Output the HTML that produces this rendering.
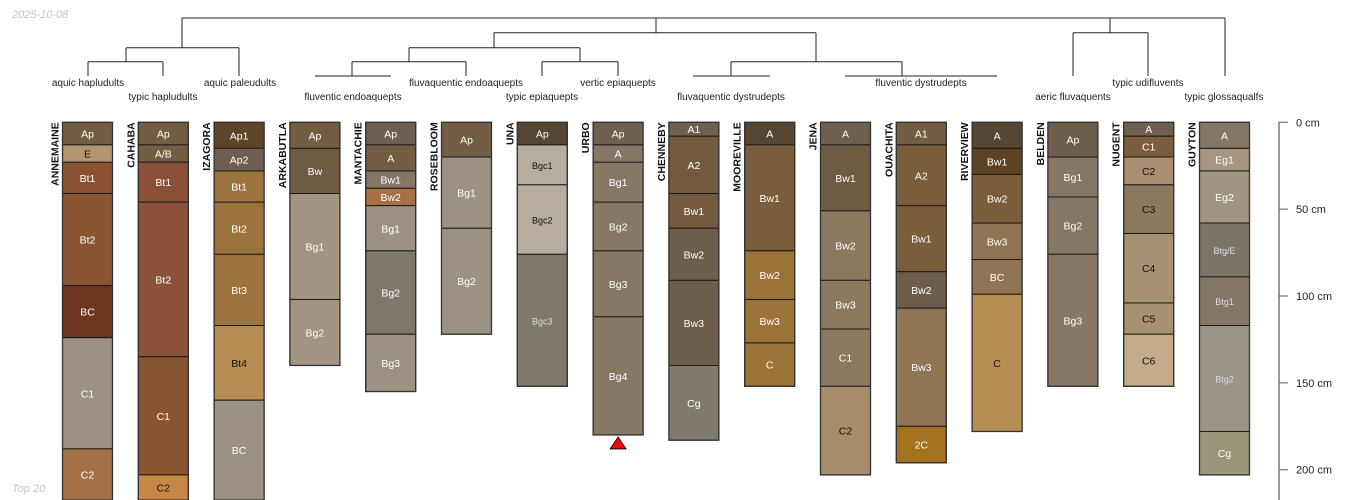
<!DOCTYPE html>
<html><head><meta charset="utf-8"><style>
html,body{margin:0;padding:0;background:#fff;width:1350px;height:500px;overflow:hidden;}
svg{display:block;font-family:"Liberation Sans",sans-serif;overflow:hidden;}
</style></head><body>
<svg id="chart" width="1350" height="500" viewBox="0 0 1350 500" xmlns="http://www.w3.org/2000/svg">
<text x="12" y="18" font-size="11" font-style="italic" fill="#c4c4c4">2025-10-08</text>
<g id="dendro" stroke="#222" stroke-width="1" fill="none"></g>
<g id="taxa" font-size="10" fill="#222" text-anchor="middle"></g>
<g id="profiles"></g>
<g id="axis"></g>
<text x="12" y="492" font-size="11" font-style="italic" fill="#c4c4c4">Top 20</text>
</svg>
<script>
const profileNames = ["ANNEMAINE","CAHABA","IZAGORA","ARKABUTLA","MANTACHIE","ROSEBLOOM","UNA","URBO","CHENNEBY","MOOREVILLE","JENA","OUACHITA","RIVERVIEW","BELDEN","NUGENT","GUYTON"];
const horizonNames = [
 ["Ap","E","Bt1","Bt2","BC","C1","C2"],
 ["Ap","A/B","Bt1","Bt2","C1","C2"],
 ["Ap1","Ap2","Bt1","Bt2","Bt3","Bt4","BC"],
 ["Ap","Bw","Bg1","Bg2"],
 ["Ap","A","Bw1","Bw2","Bg1","Bg2","Bg3"],
 ["Ap","Bg1","Bg2"],
 ["Ap","Bgc1","Bgc2","Bgc3"],
 ["Ap","A","Bg1","Bg2","Bg3","Bg4"],
 ["A1","A2","Bw1","Bw2","Bw3","Cg"],
 ["A","Bw1","Bw2","Bw3","C"],
 ["A","Bw1","Bw2","Bw3","C1","C2"],
 ["A1","A2","Bw1","Bw2","Bw3","2C"],
 ["A","Bw1","Bw2","Bw3","BC","C"],
 ["Ap","Bg1","Bg2","Bg3"],
 ["A","C1","C2","C3","C4","C5","C6"],
 ["A","Eg1","Eg2","Btg/E","Btg1","Btg2","Cg"]
];
const horizonBottoms = [
 [13,23,41,94,124,188,240],
 [13,23,46,135,203,240],
 [15,28,46,76,117,160,240],
 [15,41,102,140],
 [13,28,38,48,74,122,155],
 [20,61,122],
 [13,36,76,152],
 [13,23,46,74,112,180],
 [8,41,61,91,140,183],
 [13,74,102,127,152],
 [13,51,91,119,152,203],
 [13,48,86,107,175,196],
 [15,30,58,79,99,178],
 [20,43,76,152],
 [8,20,36,64,104,122,152],
 [15,28,58,89,117,178,203]
];
const horizonColors = [
 ["#735e45","#b39570","#8a5232","#8b5533","#6e3520","#9c9284","#a47045"],
 ["#735e45","#735e45","#8c5038","#8c513a","#8a5533","#c88845"],
 ["#5e4428","#6e5f50","#9b733c","#9b733c","#9b733c","#b68d55","#9c9284"],
 ["#735e45","#6f5a43","#a29480","#a29480"],
 ["#6e5f50","#735e45","#857766","#a87043","#9c9284","#7f776c","#9c9284"],
 ["#735e45","#9c9284","#9c9284"],
 ["#574533","#b6ad9e","#b6ad9e","#7f7a6b"],
 ["#6f5f4e","#857766","#857966","#857966","#857966","#857966"],
 ["#6f5f4e","#735a3e","#735a3e","#6e5d4b","#6e5d4b","#7f7a6d"],
 ["#574533","#7a5d3a","#9b7238","#9b7238","#9b7238"],
 ["#6f5f4e","#6f5a43","#8c785f","#8c785f","#8c785f","#a88d6c"],
 ["#735e45","#7a5d3a","#7a5d3a","#6e5d4b","#8f7553","#a2721e"],
 ["#574533","#5e4225","#7a5d3a","#8f7553","#8f7553","#b68d55"],
 ["#6e5d4b","#857766","#857766","#877765"],
 ["#6f5f4e","#7a5d3a","#a88f72","#8c785f","#a89072","#a89072","#c4ab8c"],
 ["#857766","#a89580","#a09580","#7d7468","#857766","#9b9487","#9b967a"]
];
const darkText = [
 [0,1,0,0,0,0,0],[0,0,0,0,0,1],[0,0,0,0,0,1,0],[0,0,0,0],[0,0,0,0,0,0,0],[0,0,0],[0,1,1,0],[0,0,0,0,0,0],
 [0,0,0,0,0,0],[0,0,0,0,0],[0,0,0,0,0,1],[0,0,0,0,0,0],[0,0,0,0,0,1],[0,0,0,0],[0,0,1,1,1,1,1],[0,0,0,0,0,0,0]
];
const depthTicks = [0,50,100,150,200];
const taxaLabels = [["aquic hapludults",88,86],["typic hapludults",163,100],["aquic paleudults",240,86],["fluventic endoaquepts",353,100],["fluvaquentic endoaquepts",466,86],["typic epiaquepts",542,100],["vertic epiaquepts",618,86],["fluvaquentic dystrudepts",731,100],["fluventic dystrudepts",921,86],["aeric fluvaquents",1073,100],["typic udifluvents",1148,86],["typic glossaqualfs",1224,100]];
const dendroSegments = [
 [182,18,1225,18],[182,18,182,47.7],[126,47.7,239,47.7],[126,47.7,126,61.7],[88,61.7,163,61.7],[88,61.7,88,76],[163,61.7,163,76],[239,47.7,239,76],
 [656,18,656,32.7],[494,32.7,816,32.7],[494,32.7,494,47.7],[409,47.7,580,47.7],[409,47.7,409,61.7],[352,61.7,466,61.7],[352,61.7,352,76],[315,76,391,76],[466,61.7,466,76],
 [580,47.7,580,61.7],[542,61.7,618,61.7],[542,61.7,542,76],[618,61.7,618,76],
 [816,32.7,816,61.7],[731,61.7,902,61.7],[731,61.7,731,76],[693,76,770,76],[902,61.7,902,76],[845,76,997,76],
 [1110,18,1110,32.7],[1073,32.7,1148,32.7],[1073,32.7,1073,76],[1148,32.7,1148,76],[1225,18,1225,76]
];

const NS="http://www.w3.org/2000/svg";
const TOP=122.3, PXCM=1.737, X0=62.5, DX=75.8, W=50, YMAX=500;
const yScale = d => TOP + d*PXCM;
const xScale = i => X0 + i*DX;
function mk(tag, attrs, parent){const e=document.createElementNS(NS,tag);for(const k in attrs)e.setAttribute(k,attrs[k]);parent.appendChild(e);return e;}

const dg=document.getElementById('dendro');
dendroSegments.forEach(s=>{
 const l=mk('line',{x1:s[0],y1:s[1],x2:s[2],y2:s[3]},dg);
 
 
});
const tg=document.getElementById('taxa');
taxaLabels.forEach(t=>{
 const e=mk('text',{x:t[1],y:t[2]},tg);e.textContent=t[0];
 
 
});

const pg=document.getElementById('profiles');
profileNames.forEach((name,i)=>{
 const x=xScale(i);
 const g=mk('g',{},pg);
 
 
 const lab=mk('text',{x:0,y:0,transform:`translate(${x-4},${TOP}) rotate(-90)`,'text-anchor':'end','font-size':10.5,'font-weight':'bold',fill:'#111'},g);
 lab.textContent=name;
 
 
 let top=0;
 horizonBottoms[i].forEach((b,j)=>{
  const y1=yScale(top), y2=Math.min(yScale(b),YMAX);
  const r=mk('rect',{x:x,y:y1,width:W,height:y2-y1,fill:horizonColors[i][j],stroke:'#1a1a1a','stroke-width':1},g);
  
  
  const nm=horizonNames[i][j];
  const small=nm.length>3;
  const t=mk('text',{x:x+W/2,y:(y1+y2)/2+4,'text-anchor':'middle','font-size':small?9:10.5,fill:darkText[i][j]?'#111':(small?'#ddd':'#fff')},g);
  t.textContent=nm;
  
  
  top=b;
 });
 const fr=mk('rect',{x:x,y:TOP,width:W,height:Math.min(yScale(top),YMAX)-TOP,fill:'none',stroke:'#333','stroke-width':1.3},g);
 
 
});
const ux=xScale(7)+W/2, uy=yScale(horizonBottoms[7][horizonBottoms[7].length-1]);
const tri=mk('polygon',{points:`${ux-8},${uy+14} ${ux+8},${uy+14} ${ux},${uy+2}`,fill:'#f00',stroke:'#000','stroke-width':0.8},pg);



const ag=document.getElementById('axis');
const al=mk('line',{x1:1279,y1:TOP,x2:1279,y2:YMAX,stroke:'#777','stroke-width':1.5},ag);


depthTicks.forEach(d=>{
 const y=yScale(d);
 const tk=mk('line',{x1:1279,y1:y,x2:1288,y2:y,stroke:'#777','stroke-width':1.2},ag);
 
 
 const tl=mk('text',{x:1296,y:y+4,'font-size':11,fill:'#222'},ag);
 tl.textContent=d+' cm';
 
 
});
</script>
</body></html>
